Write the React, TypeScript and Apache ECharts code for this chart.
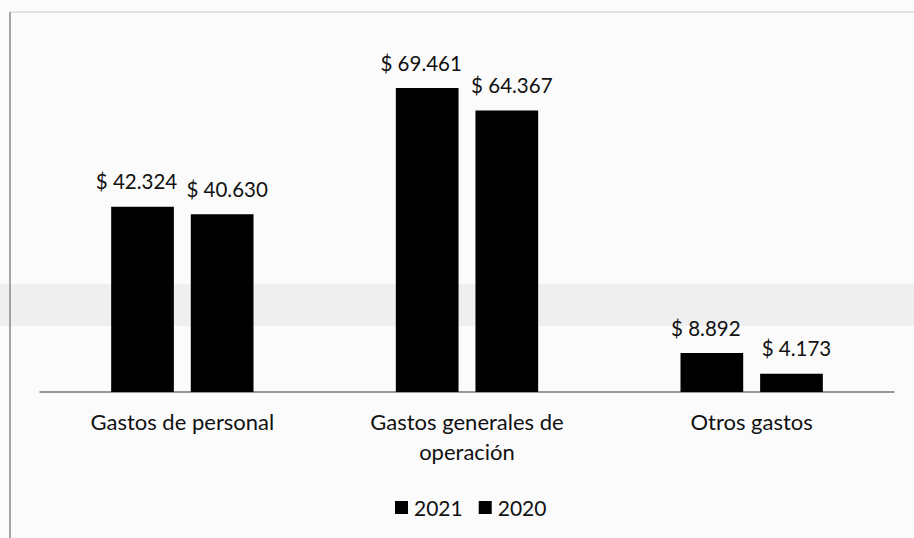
import React, { useEffect, useRef } from "react";
import * as echarts from "echarts";

const categories = ["Gastos de personal", "Gastos generales de\noperación", "Otros gastos"];
const seriesNames = ["2021", "2020"];
const values2021 = [42324, 69461, 8892];
const values2020 = [40630, 64367, 4173];

const FONT = "Lato, 'Open Sans', sans-serif";

function fmt(v: number): string {
  return "$ " + String(v).replace(/\B(?=(\d{3})+(?!\d))/g, ".");
}

export default function App() {
  const ref = useRef<HTMLDivElement>(null);
  useEffect(() => {
    document.body.style.margin = "0";
    const chart = echarts.init(ref.current!, undefined, { renderer: "svg" });
    const label = {
      show: true,
      position: "top" as const,
      distance: 15,
      color: "#111",
      fontFamily: FONT,
      fontSize: 20.5,
      formatter: (p: any) => fmt(p.value),
    };
    chart.setOption({
      animation: false,
      backgroundColor: "#fbfbfb",
      graphic: [
        { type: "rect", z: -10, shape: { x: 0, y: 284, width: 914, height: 42 }, style: { fill: "#efefef" }, silent: true },
        { type: "line", z: -5, shape: { x1: 10, y1: 12, x2: 10, y2: 538 }, style: { stroke: "#888", lineWidth: 1.5 }, silent: true },
        { type: "line", z: -5, shape: { x1: 10, y1: 12, x2: 914, y2: 12 }, style: { stroke: "#ccc", lineWidth: 1 }, silent: true },
      ],
      grid: { left: 40, right: 20, top: 42, bottom: 146, containLabel: false },
      legend: {
        top: 492,
        left: 390,
        icon: "rect",
        itemWidth: 13,
        itemHeight: 13,
        itemGap: 16,
        textStyle: { fontFamily: FONT, fontSize: 21, color: "#111", padding: [0, 0, 0, 1] },
        data: seriesNames,
      },
      xAxis: {
        type: "category",
        data: categories,
        axisLine: { lineStyle: { color: "#777", width: 1.5 } },
        axisTick: { show: false },
        axisLabel: { fontFamily: FONT, fontSize: 22, color: "#111", margin: 14, lineHeight: 30 },
      },
      yAxis: {
        type: "value",
        min: 0,
        max: 80000,
        show: false,
        splitLine: { show: false },
      },
      series: [
        {
          name: seriesNames[0],
          type: "bar",
          data: values2021,
          barGap: "27%",
          barCategoryGap: "50%",
          itemStyle: { color: "#000" },
          label: { ...label, offset: [-6, 0] },
        },
        {
          name: seriesNames[1],
          type: "bar",
          data: values2020,
          itemStyle: { color: "#000" },
          label: { ...label, offset: [5, 0] },
        },
      ],
    });
    return () => chart.dispose();
  }, []);
  return <div ref={ref} style={{ width: 914, height: 538 }} />;
}
